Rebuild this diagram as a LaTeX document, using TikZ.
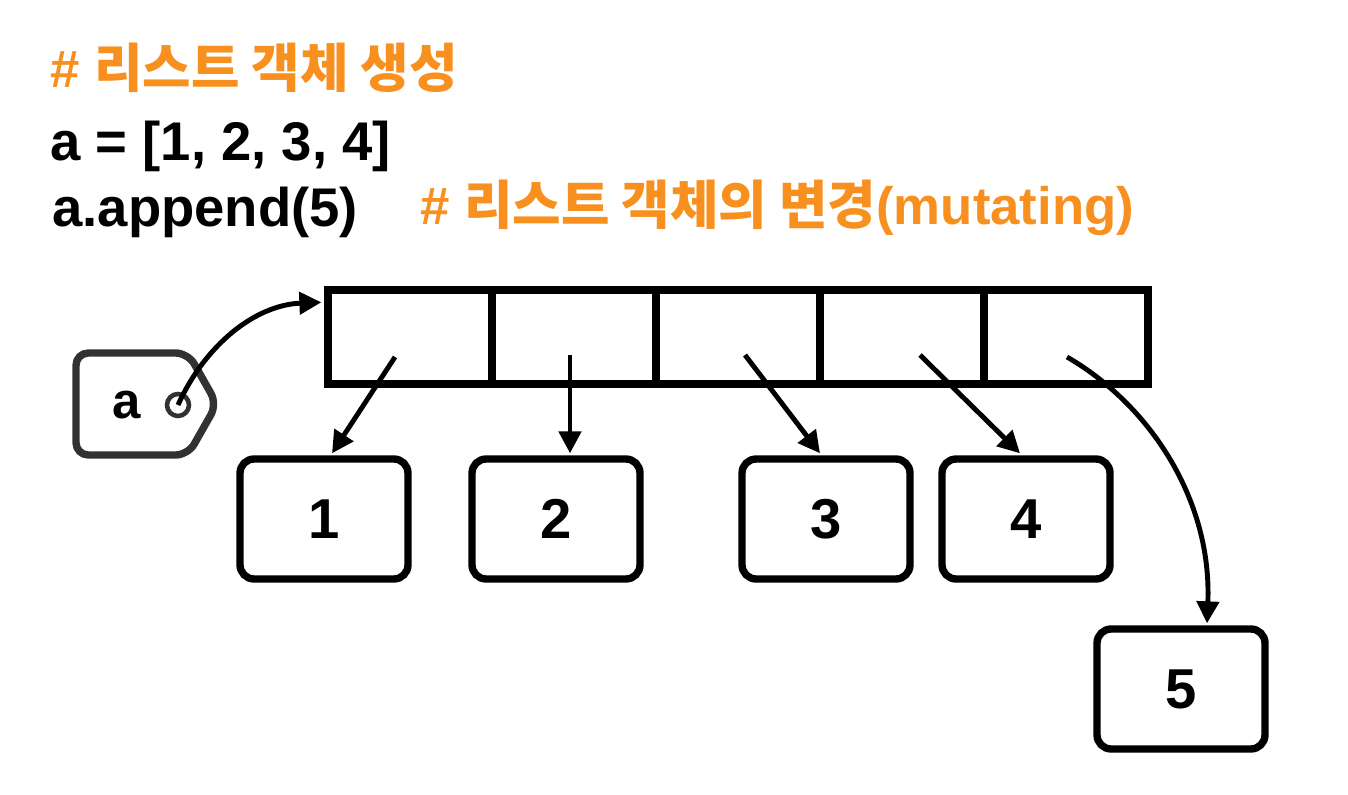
\documentclass[tikz,border=0pt]{standalone}
\usepackage{fontspec}
\setmainfont{Liberation Sans}
\newfontfamily\kr{Noto Sans CJK KR}
\usetikzlibrary{arrows.meta,positioning}
\definecolor{codeorange}{RGB}{247,144,30}
\definecolor{taggray}{RGB}{50,50,50}
\tikzset{
  cell/.style={draw, line width=4.2pt, minimum width=3.28cm, minimum height=1.88cm, inner sep=0pt},
  val/.style={draw, line width=4.2pt, rounded corners=8pt, minimum width=3.36cm, minimum height=2.4cm, font=\bfseries\fontsize{32}{38}\selectfont},
  ptr/.style={line width=2.8pt, -{Triangle[length=12.5pt,width=12.5pt]}},
  code/.style={anchor=base west, inner sep=0pt, font=\bfseries\fontsize{31}{37}\selectfont},
  comment/.style={code, text=codeorange, font=\bfseries\fontsize{30}{36}\selectfont}
}
\begin{document}
\begin{tikzpicture}[x=0.02cm,y=-0.02cm]
\useasboundingbox (0,0) rectangle (1348,794);
% code lines
\node[comment] (t1) at (50,88) {\# {\kr 리스트 객체 생성}};
\node[code] (t2) at (50,160) {a = [1, 2, 3, 4]};
\node[code] (t3) at (52,226) {a.append(5)};
\node[comment] (t4) at (420,224) {\# {\kr 리스트 객체의 변경}(mutating)};
% list cells
\node[cell] (c1) at (410,337) {};
\node[cell] (c2) at (574,337) {};
\node[cell] (c3) at (738,337) {};
\node[cell] (c4) at (902,337) {};
\node[cell] (c5) at (1066,337) {};
% values
\node[val] (v1) at (324,519) {1};
\node[val] (v2) at (556,519) {2};
\node[val] (v3) at (826,519) {3};
\node[val] (v4) at (1026,519) {4};
\node[val] (v5) at (1181,689) {5};
% name tag
\draw[taggray, line width=4.2pt, rounded corners=7pt] (76,353) -- (188,353) -- (217,404) -- (188,455) -- (76,455) -- cycle;
\node[font=\bfseries\fontsize{29}{34}\selectfont] (a) at (127,405) {a};
\node[draw=taggray, circle, line width=2.6pt, minimum size=0.44cm, inner sep=0pt] (ac) at (178,405) {};
% references
\draw[ptr] (ac.center) .. controls (205,345) and (255,305) .. ([shift={(-3,16)}]c1.north west);
\draw[ptr] ([shift={(-15,20)}]c1.center) -- ([shift={(8,-2)}]v1.north);
\draw[ptr] ([shift={(-4,18)}]c2.center) -- ([shift={(14,-2)}]v2.north);
\draw[ptr] ([shift={(7,18)}]c3.center) -- ([shift={(-6,-2)}]v3.north);
\draw[ptr] ([shift={(18,18)}]c4.center) -- ([shift={(-6,-2)}]v4.north);
\draw[ptr] ([shift={(1,20)}]c5.center) .. controls (1150,405) and (1212,500) .. ([shift={(26,-2)}]v5.north);
\end{tikzpicture}
\end{document}
